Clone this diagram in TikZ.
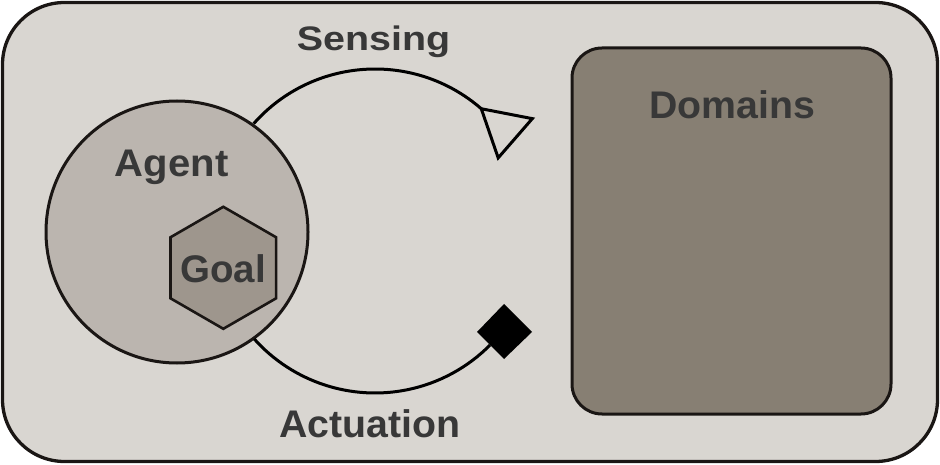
\documentclass[tikz,border=0pt]{standalone}
\usepackage{fontspec}
\setmainfont{Liberation Sans}
\definecolor{bgfill}{RGB}{217,214,209}
\definecolor{agentfill}{RGB}{187,181,175}
\definecolor{goalfill}{RGB}{158,150,141}
\definecolor{domfill}{RGB}{135,127,115}
\definecolor{edge}{RGB}{26,22,20}
\definecolor{txt}{RGB}{56,56,56}
\tikzset{
  lbl/.style={anchor=base, inner sep=0pt, text=txt, font=\fontsize{38.5}{40}\selectfont\bfseries},
  conn/.style={draw=black, line width=3pt},
}
\begin{document}
\begin{tikzpicture}[x=1pt,y=1pt]
\useasboundingbox (0,0) rectangle (940,464);
% outer frame
\draw[fill=bgfill, draw=edge, line width=3.3pt, rounded corners=62pt] (2.5,2.5) rectangle (937.5,461.5);
% domains box
\draw[fill=domfill, draw=edge, line width=3pt, rounded corners=30pt] (572,50) rectangle (891,416);
% agent circle
\draw[fill=agentfill, draw=edge, line width=3pt] (177,232) circle (131);
% goal hexagon
\coordinate (gc) at (223.3,196.2);
\draw[fill=goalfill, draw=edge, line width=2.6pt, line join=miter]
  ([shift={(90:61)}]gc) -- ([shift={(150:61)}]gc) -- ([shift={(210:61)}]gc) --
  ([shift={(270:61)}]gc) -- ([shift={(330:61)}]gc) -- ([shift={(30:61)}]gc) -- cycle;
% loop centre
\coordinate (lc) at (375,233);
% sensing arc
\coordinate (s0) at ([shift={(138.5:162)}]lc);
\coordinate (s1) at ([shift={(49:162)}]lc);
\draw[conn] (s0) arc[start angle=138.5, end angle=49, radius=162];
% open triangle at sensing end
\path (s1) ++(-41:45) ++(49:26) coordinate (tb) ++(229:52) coordinate (tc);
\draw[fill=bgfill, draw=black, line width=3pt, line join=miter]
  (s1) -- (tb) -- (tc) -- cycle;
% actuation arc
\coordinate (a0) at ([shift={(221.8:162)}]lc);
\draw[conn] (a0) arc[start angle=221.8, end angle=315.3, radius=162];
% diamond at actuation end
\fill[black] (504,160) -- (532,132) -- (504,105) -- (477,132) -- cycle;
% labels
\node[lbl, font=\fontsize{34}{36}\selectfont\bfseries] (sensing) at (373.5,413.5) {\scalebox{1.16}[1]{Sensing}};
\node[lbl] (actuation) at (370,26.3) {\scalebox{1.02}[1]{Actuation}};
\node[lbl] (agent) at (171.7,287.3) {\scalebox{1.04}[1]{Agent}};
\node[lbl] (goal) at (223.3,181.3) {Goal};
\node[lbl] (domains) at (732.5,345) {\scalebox{1.02}[1]{Domains}};
\end{tikzpicture}
\end{document}
